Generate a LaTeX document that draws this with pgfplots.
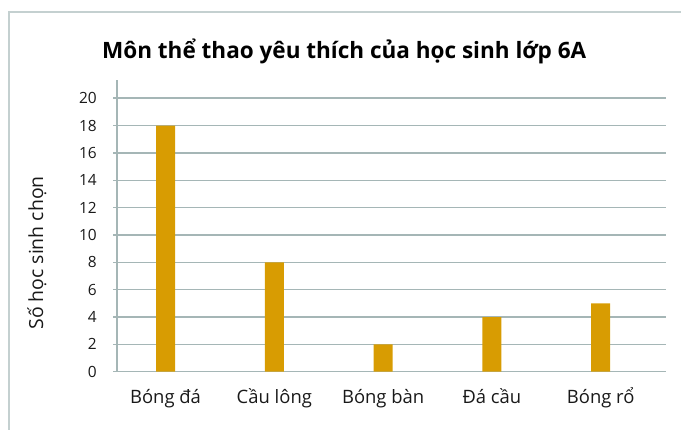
\documentclass[border=0pt]{standalone}
\usepackage{pgfplots}
\pgfplotsset{compat=1.18}
\usepackage{fontspec}
\setmainfont{Open Sans}
\definecolor{barcol}{RGB}{216,156,2}
\definecolor{gridcol}{RGB}{165,182,182}
\definecolor{boxcol}{RGB}{196,208,208}
\begin{document}
\begin{tikzpicture}
\begin{axis}[
  at={(117bp,58.3bp)}, anchor=south west,
  x=108.8bp, y=13.67bp,
  xmin=-0.446, xmax=4.6, ymin=0, ymax=21.34,
  axis x line*=bottom, axis y line*=left,
  x axis line style={draw=none},
  y axis line style={gridcol, line width=1.2bp, -},
  ytick={0,2,...,20},
  xtick={0,1,2,3,4},
  xticklabels={Bóng đá, Cầu lông, Bóng bàn, Đá cầu, Bóng rổ},
  ymajorgrids,
  major grid style={gridcol, line width=1.6bp},
  ytick style={gridcol, line width=1.6bp},
  major tick length=4bp, tick align=outside,
  xtick style={draw=none},
  /pgf/number format/assume math mode=true,
  yticklabel style={font=\fontsize{15.5}{15.5}\selectfont, text=black!90, anchor=east, inner sep=0pt, xshift=-16bp},
  xticklabel style={font=\fontsize{18.5}{18.5}\selectfont, text=black!90, anchor=base, yshift=-28bp},
  clip=false,
]
\addplot[ybar, bar width=19bp, fill=barcol, draw=none] coordinates {(0,18) (1,8) (2,2) (3,4) (4,5)};
\end{axis}
\node[font=\bfseries\fontsize{22.6}{22.6}\selectfont, anchor=base, text=black] at (344.2bp,371bp) {Môn thể thao yêu thích của học sinh lớp 6A};
\node[rotate=90, font=\fontsize{19.5}{19.5}\selectfont, text=black!90] at (37bp,177bp) {Số học sinh chọn};
\draw[boxcol, line width=2bp] (9.3bp,-10bp) -- (9.3bp,417.7bp) -- (700bp,417.7bp);
\pgfresetboundingbox
\useasboundingbox (0,0) rectangle (681bp,430bp);
\end{tikzpicture}
\end{document}
